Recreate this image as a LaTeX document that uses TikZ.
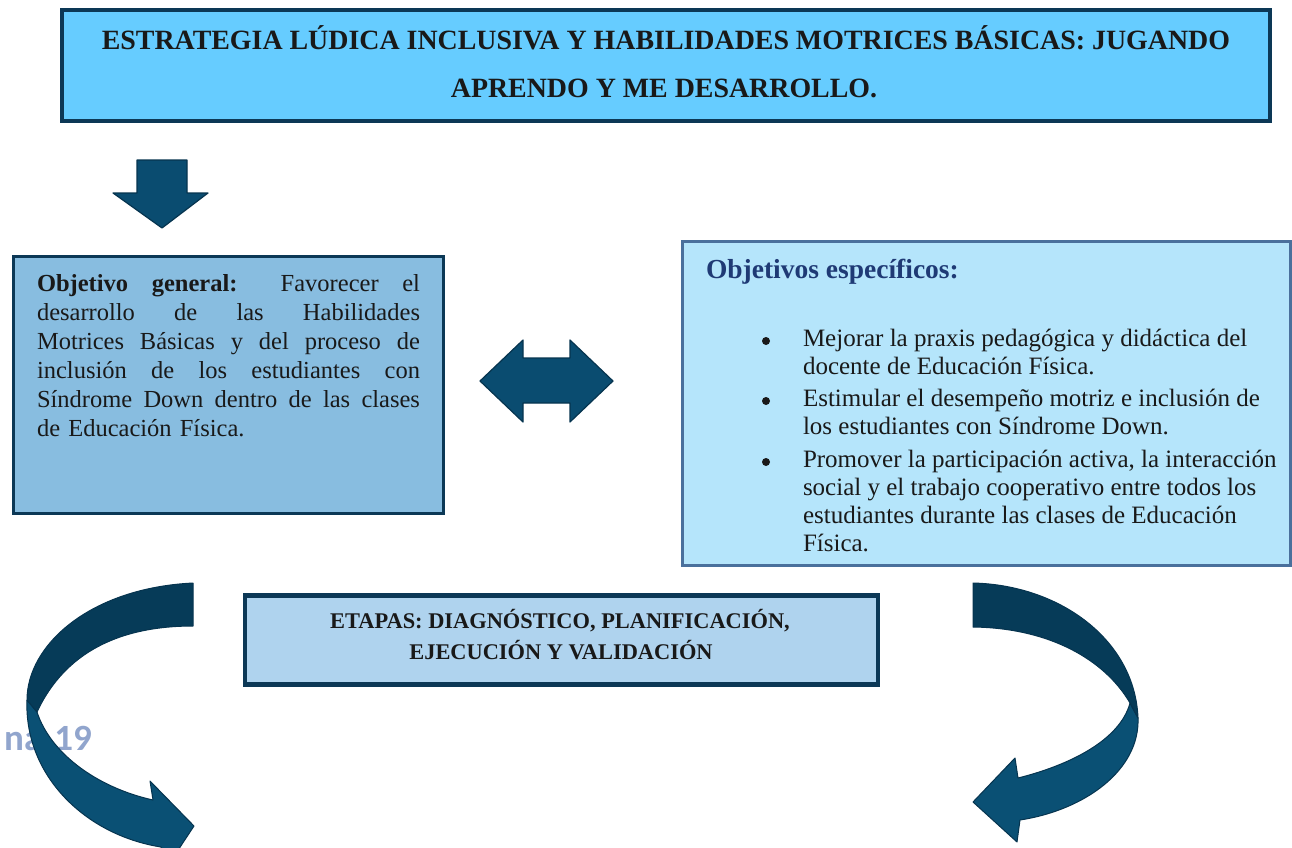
\documentclass[tikz,border=0pt]{standalone}
\usepackage{fontspec}
\setmainfont{Liberation Serif}
\newfontfamily\pagefont{Carlito}
\definecolor{darkline}{RGB}{12,56,86}
\definecolor{titlefill}{RGB}{102,204,255}
\definecolor{genfill}{RGB}{136,189,224}
\definecolor{espfill}{RGB}{181,229,251}
\definecolor{espline}{RGB}{74,112,156}
\definecolor{etafill}{RGB}{175,211,238}
\definecolor{arrowfill}{RGB}{10,76,112}
\definecolor{arrowline}{RGB}{6,52,79}
\definecolor{bandtop}{RGB}{6,59,88}
\definecolor{bandlow}{RGB}{10,80,116}
\definecolor{navy}{RGB}{31,58,117}
\definecolor{pagecol}{RGB}{145,165,205}
\definecolor{txt}{RGB}{25,25,25}
\newcommand\jline[1]{\makebox[383pt][s]{\spaceskip=0pt\xspaceskip=0pt\relax #1}}
\tikzset{
  framebox/.style={rectangle, inner sep=0pt, draw=darkline},
  blockarrow/.style={fill=arrowfill, draw=arrowline, line width=1.2pt, line join=round},
  bandone/.style={fill=bandtop, draw=arrowline, line width=1pt, line join=round},
  bandtwo/.style={fill=bandlow, draw=arrowline, line width=1pt, line join=round},
  plain/.style={inner sep=0pt, outer sep=0pt, text=txt},
  dotmark/.style={circle, fill=txt, inner sep=0pt, minimum size=8pt}
}
\begin{document}
\begin{tikzpicture}[x=1pt,y=-1pt]
\useasboundingbox (0,0) rectangle (1292,847);

% page number text (behind the arrow)
\node[anchor=base west, inner sep=0pt, text=pagecol, font=\pagefont\bfseries\fontsize{37}{37}\selectfont] (pg) at (4,750) {na\hspace{12pt}19};

% title box
\node[framebox, line width=4.5pt, fill=titlefill, minimum width=1208pt, minimum height=111pt] (title) at (666,65.5) {};
\node[plain, anchor=base, font=\bfseries\fontsize{27.9}{30}\selectfont] (t1) at (666,49) {ESTRATEGIA LÚDICA INCLUSIVA Y HABILIDADES MOTRICES BÁSICAS: JUGANDO};
\node[plain, anchor=base, font=\bfseries\fontsize{27.9}{30}\selectfont] (t2) at (664,97) {APRENDO Y ME DESARROLLO.};

% down arrow
\draw[blockarrow] (137,160) -- (187,160) -- (187,193) -- (208,193) -- (162,228) -- (113,193) -- (137,193) -- cycle;

% general objective box
\node[framebox, line width=3.5pt, fill=genfill, minimum width=430pt, minimum height=257pt] (gen) at (228.5,385) {};
\node[plain, anchor=north west, text width=383pt, align=left, font=\fontsize{24.5}{29}\selectfont] (gentext) at (37,270.7) {%
\jline{\strut\textbf{Objetivo general:} Favorecer el}\\
\jline{desarrollo de las Habilidades}\\
\jline{Motrices Básicas y del proceso de}\\
\jline{inclusión de los estudiantes con}\\
\jline{Síndrome Down dentro de las clases}\\
de Educación Física.};

% double arrow
\draw[blockarrow] (480,381) -- (523,340) -- (523,358) -- (570,358) -- (570,340) -- (613,381) -- (570,422) -- (570,403) -- (523,403) -- (523,422) -- cycle;

% specific objectives box
\node[rectangle, inner sep=0pt, draw=espline, line width=3pt, fill=espfill, minimum width=608pt, minimum height=324pt] (esp) at (986.5,403.5) {};
\node[plain, anchor=base west, text=navy, font=\bfseries\fontsize{27.5}{30}\selectfont] (esptitle) at (706,278) {Objetivos específicos:};
\begin{scope}
\clip (684,243) rectangle (1289,554);
\node[dotmark] (b1) at (766,341) {};
\node[dotmark] (b2) at (766,401) {};
\node[dotmark] (b3) at (766,462) {};
\node[plain, anchor=north west, align=left, font=\fontsize{25}{28}\selectfont] (i1) at (803,326.4) {\strut Mejorar la praxis pedagógica y didáctica del\\docente de Educación Física.};
\node[plain, anchor=north west, align=left, font=\fontsize{25}{28}\selectfont] (i2) at (803,386.4) {\strut Estimular el desempeño motriz e inclusión de\\los estudiantes con Síndrome Down.};
\node[plain, anchor=north west, align=left, font=\fontsize{25}{28}\selectfont] (i3) at (803,447.4) {\strut Promover la participación activa, la interacción\\social y el trabajo cooperativo entre todos los\\estudiantes durante las clases de Educación\\Física.};
\end{scope}

% stages box
\node[framebox, line width=4.5pt, fill=etafill, minimum width=633pt, minimum height=89pt] (eta) at (561.5,640) {};
\node[plain, anchor=base, font=\bfseries\fontsize{22.4}{26}\selectfont] (e1) at (560,628) {ETAPAS: DIAGNÓSTICO, PLANIFICACIÓN,};
\node[plain, anchor=base, font=\bfseries\fontsize{22.4}{26}\selectfont] (e2) at (561,659) {EJECUCIÓN Y VALIDACIÓN};

% left curved arrow
\draw[bandtwo] (27,700) .. controls (24,775) and (85,835) .. (161,847) -- (165,870) -- (194,826) -- (150,781) -- (153,800) .. controls (95,787) and (50,752) .. (37,712) -- cycle;
\draw[bandone] (193,583) -- (193,626) .. controls (120,626) and (65,652) .. (37,712) -- (27,700) .. controls (27,645) and (90,588) .. (193,583) -- cycle;

% right curved arrow
\draw[bandtwo] (1138,718) .. controls (1140,770) and (1085,810) .. (1020,820) -- (1017,842) -- (973,802) -- (1015,758) -- (1018,778) .. controls (1070,765) and (1120,740) .. (1130,703) -- cycle;
\draw[bandone] (973,583) .. controls (1060,585) and (1135,640) .. (1138,718) -- (1130,703) .. controls (1105,660) and (1050,628) .. (973,627) -- cycle;
\end{tikzpicture}
\end{document}
